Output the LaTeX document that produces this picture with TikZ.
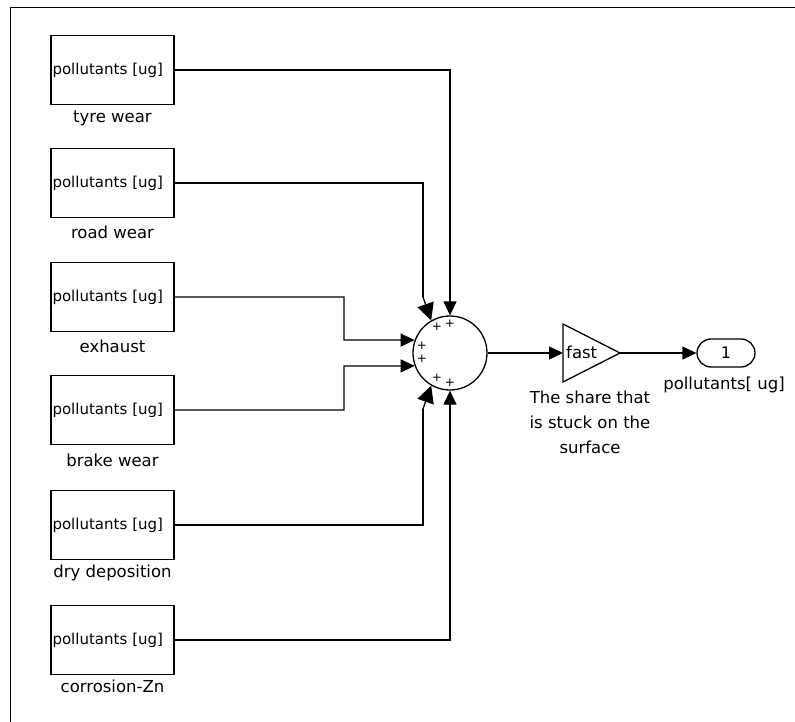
\documentclass[tikz,border=0pt]{standalone}
\usepackage{fontspec}
\setmainfont{DejaVu Sans}
\usetikzlibrary{arrows.meta,calc}
\begin{document}
\begin{tikzpicture}[x=1pt,y=-1pt,
  srcbox/.style={draw,line width=1.4pt,minimum width=123pt,minimum height=69pt,inner sep=0pt,
    font=\fontsize{15}{17}\selectfont,text width=120pt,align=left},
  lbl/.style={font=\fontsize{16.5}{19}\selectfont,inner sep=0pt},
  plus/.style={font=\fontsize{12}{12}\selectfont,inner sep=0pt},
  wire/.style={line width=1.3pt},
  arr/.style={wire,-{Triangle[length=14pt,width=13pt]}},
  sarr/.style={wire,-{Triangle[length=17pt,width=17pt]}},
]
\useasboundingbox (0,0) rectangle (795,722);
\draw[line width=1pt] (795,8) -- (10,8) -- (10,722);

% source blocks
\node[srcbox] (b1) at (112.5,70) {pollutants [ug]};
\node[srcbox] (b2) at (112.5,183) {pollutants [ug]};
\node[srcbox] (b3) at (112.5,297) {pollutants [ug]};
\node[srcbox] (b4) at (112.5,410) {pollutants [ug]};
\node[srcbox] (b5) at (112.5,525) {pollutants [ug]};
\node[srcbox] (b6) at (112.5,640) {pollutants [ug]};

\node[lbl] (l1) at (112.5,118) {tyre wear};
\node[lbl] (l2) at (112.5,232) {road wear};
\node[lbl] (l3) at (112.5,346) {exhaust};
\node[lbl] (l4) at (112.5,460) {brake wear};
\node[lbl] (l5) at (112.5,573) {dry deposition};
\node[lbl] (l6) at (112.5,686) {corrosion-Zn};

% sum block
\node[draw,circle,line width=1.3pt,minimum size=74pt,inner sep=0pt] (sum) at (450,353) {};
\node[plus] (p1) at (437,327) {+};
\node[plus] (p2) at (450,324) {+};
\node[plus] (p3) at (422,346) {+};
\node[plus] (p4) at (422,359) {+};
\node[plus] (p5) at (437,378) {+};
\node[plus] (p6) at (450,383) {+};

% bend points
\coordinate (k2) at (423,297);
\coordinate (k3) at (344,340);
\coordinate (k4) at (344,366);
\coordinate (k5) at (423,409);

\draw[arr] (b1.east) -| (sum.north);
\draw[wire] (b2.east) -| (k2);
\draw[sarr] (k2) -- (sum.120);
\draw[arr] (b3.east) -| (k3) -- (sum.160);
\draw[arr] (b4.east) -| (k4) -- (sum.200);
\draw[wire] (b5.east) -| (k5);
\draw[sarr] (k5) -- (sum.240);
\draw[arr] (b6.east) -| (sum.south);

% gain block
\coordinate (gin) at (563,353);
\coordinate (gout) at (620,353);
\draw[line width=1.3pt,line join=miter] (563,324) -- (gout) -- (563,382) -- cycle;
\node[lbl,anchor=west] (fast) at (566,352) {fast};
\node[lbl,align=center,font=\fontsize{16.5}{25}\selectfont] (share) at (590,422)
  {The share that\\is stuck on the\\surface};

% output port
\node[draw,line width=1.3pt,rounded corners=14pt,minimum width=58pt,minimum height=28pt,
  inner sep=0pt,font=\fontsize{16}{17}\selectfont] (out) at (726,353) {1};
\node[lbl] (outl) at (724,385) {pollutants[ ug]};

\draw[arr] (sum.east) -- (gin);
\draw[arr] (gout) -- (out.west);
\end{tikzpicture}
\end{document}
